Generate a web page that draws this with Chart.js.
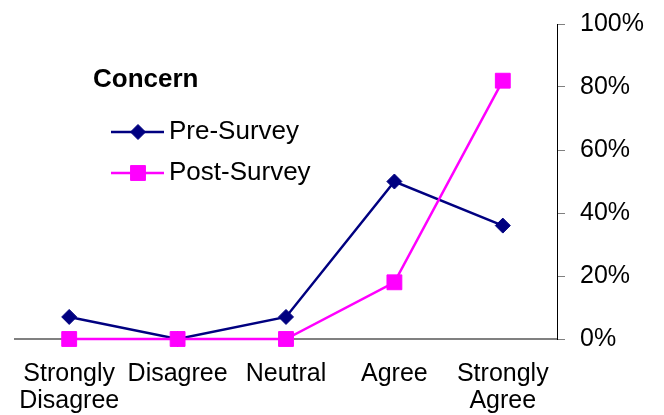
<!DOCTYPE html>
<html lang="en">
<head>
  <meta charset="UTF-8">
  <title>Concern</title>
  <script src="https://cdn.jsdelivr.net/npm/chart.js"></script>
  <style>
    html, body { margin: 0; padding: 0; background: #fff; }
    .wrap { width: 664px; height: 415px; position: relative; }
  </style>
</head>
<body>
  <div class="wrap"><canvas id="chart"></canvas></div>

  <script>
    const chartTitle = 'Concern';
    const categories = [['Strongly', 'Disagree'], 'Disagree', 'Neutral', 'Agree', ['Strongly', 'Agree']];
    const preSurvey  = [7, 0, 7, 50, 36];
    const postSurvey = [0, 0, 0, 18, 82];
    const yTicks     = [0, 20, 40, 60, 80, 100];

    const FONT = 'Liberation Sans, Arial, sans-serif';

    // title + legend drawn inside the plot, top left
    const insideLegend = {
      id: 'insideLegend',
      afterDraw(chart) {
        const ctx = chart.ctx;
        ctx.save();
        ctx.fillStyle = '#000';
        ctx.textBaseline = 'middle';
        ctx.textAlign = 'left';
        ctx.font = 'bold 26px ' + FONT;
        ctx.fillText(chartTitle, 93, 80);

        ctx.font = '26px ' + FONT;
        chart.data.datasets.forEach((ds, i) => {
          const y = 132 + i * 41;
          ctx.strokeStyle = ds.borderColor;
          ctx.lineWidth = ds.borderWidth;
          ctx.beginPath();
          ctx.moveTo(111, y);
          ctx.lineTo(164, y);
          ctx.stroke();
          ctx.fillStyle = ds.pointBackgroundColor;
          ctx.strokeStyle = ds.pointBorderColor;
          ctx.lineWidth = 1;
          Chart.helpers.drawPoint(ctx, { pointStyle: ds.pointStyle, radius: ds.pointRadius, borderWidth: 1 }, 138, y);
          ctx.fillStyle = '#000';
          ctx.fillText(ds.label, 169, y);
        });
        ctx.restore();
      }
    };

    new Chart(document.getElementById('chart'), {
      type: 'line',
      data: {
        labels: categories,
        datasets: [
          {
            label: 'Pre-Survey',
            data: preSurvey,
            borderColor: '#000080',
            borderWidth: 2.5,
            pointStyle: 'rectRot',
            pointRadius: 7.5,
            pointBackgroundColor: '#000080',
            pointBorderColor: '#000080',
            pointBorderWidth: 1,
            clip: false,
            order: 1
          },
          {
            label: 'Post-Survey',
            data: postSurvey,
            borderColor: '#ff00ff',
            borderWidth: 2.5,
            pointStyle: 'rect',
            pointRadius: 10.5,
            pointBackgroundColor: '#ff00ff',
            pointBorderColor: '#ff00ff',
            pointBorderWidth: 1,
            clip: false,
            order: 0
          }
        ]
      },
      options: {
        responsive: true,
        maintainAspectRatio: false,
        animation: false,
        layout: { padding: { left: 15, top: 24, right: 0, bottom: 0 } },
        plugins: {
          legend: { display: false },
          tooltip: { enabled: false }
        },
        scales: {
          x: {
            offset: true,
            grid: { display: false, drawTicks: false },
            border: { display: true, color: '#808080', width: 2 },
            ticks: {
              color: '#000',
              font: { family: FONT, size: 25, lineHeight: '27px' },
              padding: 22,
              maxRotation: 0,
              autoSkip: false
            },
            afterFit(scale) { scale.height = 76; scale.paddingLeft = 0; scale.paddingRight = 0; }
          },
          y: {
            position: 'right',
            min: 0,
            max: 100,
            afterBuildTicks(scale) { scale.ticks = yTicks.map(v => ({ value: v })); },
            grid: { drawOnChartArea: false, drawTicks: true, tickLength: 8, color: '#808080' },
            border: { display: true, color: '#000', width: 1 },
            ticks: {
              color: '#000',
              font: { family: FONT, size: 25 },
              padding: 15,
              callback: v => v + '%'
            },
            afterFit(scale) { scale.width = 107; scale.paddingTop = 0; scale.paddingBottom = 0; }
          }
        }
      },
      plugins: [insideLegend]
    });
  </script>
</body>
</html>
